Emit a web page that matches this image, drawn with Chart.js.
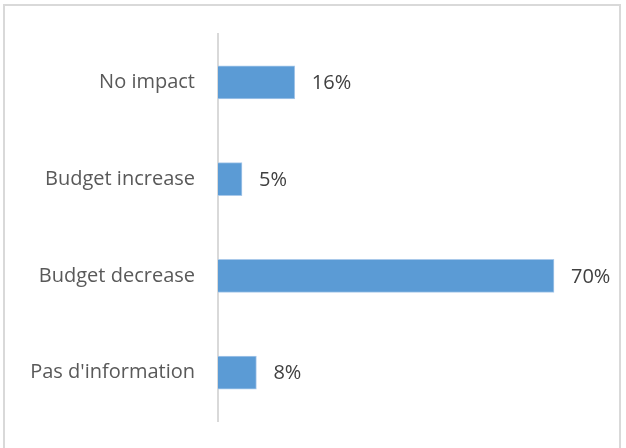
<!DOCTYPE html>
<html>
<head>
<meta charset="utf-8">
<script src="https://cdn.jsdelivr.net/npm/chart.js@4/dist/chart.umd.min.js"></script>
<style>
  html, body { margin: 0; padding: 0; background: #fff; }
  #wrap { position: absolute; left: 0; top: 0; width: 626px; height: 448px; }
</style>
</head>
<body>
<div id="wrap"><canvas id="chart"></canvas></div>
<script>
var categories = ['No impact', 'Budget increase', 'Budget decrease', "Pas d'information"];
var shares = [16, 5, 70, 8];

var frame = {
    id: 'frame',
    beforeDraw: function (chart) {
        var c = chart.ctx;
        c.save();
        c.strokeStyle = '#d9d9d9';
        c.lineWidth = 2;
        c.strokeRect(4, 5, 616, 460);
        c.restore();
    }
};

var valueLabels = {
    id: 'valueLabels',
    afterDatasetsDraw: function (chart) {
        var c = chart.ctx;
        var meta = chart.getDatasetMeta(0);
        c.save();
        c.fillStyle = '#404040';
        c.font = '20px "Open Sans", Lato, sans-serif';
        c.textAlign = 'left';
        c.textBaseline = 'middle';
        meta.data.forEach(function (bar, i) {
            c.fillText(shares[i] + '%', bar.x + 17, bar.y + 1);
        });
        c.restore();
    }
};

document.addEventListener('DOMContentLoaded', function () {
    var ctx = document.getElementById('chart').getContext('2d');
    new Chart(ctx, {
        type: 'bar',
        data: {
            labels: categories,
            datasets: [{
                data: shares,
                backgroundColor: '#5b9bd5',
                borderColor: '#a9c9ea',
                borderWidth: 1,
                barThickness: 33
            }]
        },
        options: {
            indexAxis: 'y',
            responsive: true,
            maintainAspectRatio: false,
            animation: false,
            layout: { padding: { top: 34, right: 24, bottom: 23, left: 0 } },
            scales: {
                x: {
                    display: false,
                    min: 0,
                    max: 80
                },
                y: {
                    afterFit: function (scale) { scale.width = 218; },
                    grid: { display: false },
                    border: { display: true, color: '#d9d9d9', width: 2 },
                    ticks: {
                        color: '#595959',
                        padding: 15,
                        font: { family: '"Open Sans", Lato, sans-serif', size: 20 }
                    }
                }
            },
            plugins: {
                legend: { display: false },
                tooltip: { enabled: false }
            }
        },
        plugins: [frame, valueLabels]
    });
});
</script>
</body>
</html>
